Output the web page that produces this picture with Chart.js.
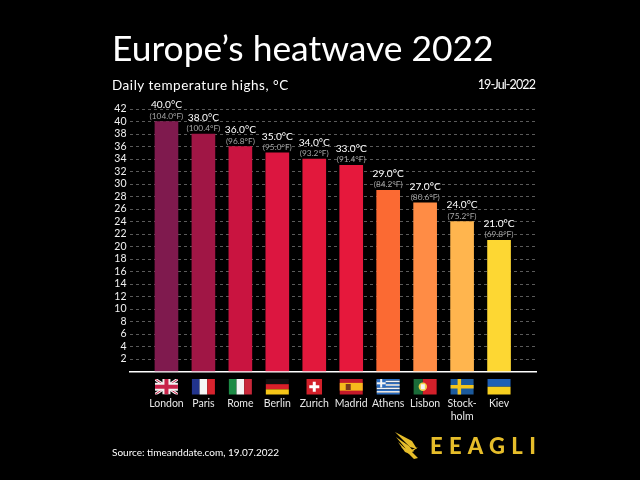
<!DOCTYPE html>
<html>
<head>
<meta charset="utf-8">
<title>Europe's heatwave 2022</title>
<script src="https://cdn.jsdelivr.net/npm/chart.js@4"></script>
<style>
  html, body { margin: 0; background: #000; }
  #wrap { position: relative; width: 640px; height: 480px; overflow: hidden; background: #000; }
  canvas { position: absolute; left: 0; top: 0; }
  .txt { position: absolute; color: #fff; font-family: Lato, sans-serif; white-space: nowrap; }
  #title { left: 112px; top: 26px; font-size: 35.4px; line-height: 44px; }
  #sub { left: 112px; top: 77px; font-size: 13.5px; line-height: 16px; letter-spacing: 0.53px; }
  #date { right: 105px; top: 77px; font-size: 12.5px; line-height: 16px; letter-spacing: -0.9px; }
  #source { left: 112px; top: 445px; font-size: 10px; line-height: 14px; }
  #brand { left: 430px; top: 432px; font-size: 22px; line-height: 28px; font-weight: 900; letter-spacing: 6.3px; color: #e6bd2a; }
</style>
</head>
<body>
<div id="wrap">
  <canvas id="heatChart" width="640" height="480"></canvas>
  <div class="txt" id="title">Europe’s heatwave 2022</div>
  <div class="txt" id="sub">Daily temperature highs, °C</div>
  <div class="txt" id="date">19-Jul-2022</div>
  <div class="txt" id="source">Source: timeanddate.com, 19.07.2022</div>
  <div class="txt" id="brand">EEAGLI</div>
</div>
<script>
const categories = ['London', 'Paris', 'Rome', 'Berlin', 'Zurich', 'Madrid', 'Athens', 'Lisbon', ['Stock-', 'holm'], 'Kiev'];
const highsC = [40, 38, 36, 35, 34, 33, 29, 27, 24, 21];
const highsF = ['104.0', '100.4', '96.8', '95.0', '93.2', '91.4', '84.2', '80.6', '75.2', '69.8'];
const barColors = ['#7f1a4e', '#a01645', '#c91440', '#dc1640', '#e2183c', '#e6183c', '#fb6a33', '#ff8c45', '#ffb54e', '#fdd733'];
const flags = ['uk', 'fr', 'it', 'de', 'ch', 'es', 'gr', 'pt', 'se', 'ua'];

const stripesV = (ctx, x, y, w, h, cols) => {
    cols.forEach((c, i) => {
        ctx.fillStyle = c;
        ctx.fillRect(x + w * i / cols.length, y, w / cols.length, h);
    });
};
const stripesH = (ctx, x, y, w, h, cols) => {
    cols.forEach((c, i) => {
        ctx.fillStyle = c;
        ctx.fillRect(x, y + h * i / cols.length, w, h / cols.length);
    });
};

const flagDraw = {
    uk(ctx, x, y, w, h) {
        ctx.save();
        ctx.beginPath(); ctx.rect(x, y, w, h); ctx.clip();
        ctx.fillStyle = '#000';
        ctx.fillRect(x, y, w, h);
        ctx.strokeStyle = '#f2f2f2'; ctx.lineWidth = 3;
        ctx.beginPath();
        ctx.moveTo(x, y); ctx.lineTo(x + w, y + h);
        ctx.moveTo(x + w, y); ctx.lineTo(x, y + h);
        ctx.stroke();
        ctx.strokeStyle = '#c8234a'; ctx.lineWidth = 1;
        ctx.stroke();
        ctx.fillStyle = '#f2f2f2';
        ctx.fillRect(x + w / 2 - 4, y, 8, h);
        ctx.fillRect(x, y + h / 2 - 4, w, 8);
        ctx.fillStyle = '#c8234a';
        ctx.fillRect(x + w / 2 - 2, y, 4, h);
        ctx.fillRect(x, y + h / 2 - 2, w, 4);
        ctx.restore();
    },
    fr(ctx, x, y, w, h) { stripesV(ctx, x, y, w, h, ['#22348c', '#f4f4f4', '#d8232e']); },
    it(ctx, x, y, w, h) { stripesV(ctx, x, y, w, h, ['#1c8a45', '#f4f4f4', '#c9283a']); },
    de(ctx, x, y, w, h) { stripesH(ctx, x, y, w, h, ['#111', '#d9202a', '#f5c518']); },
    ch(ctx, x, y, w, h) {
        const cx = x + w / 2, cy = y + h / 2;
        ctx.fillStyle = '#d3202a';
        ctx.fillRect(cx - h / 2, y, h, h);
        ctx.fillStyle = '#fff';
        ctx.fillRect(cx - 5, cy - 1.5, 10, 3);
        ctx.fillRect(cx - 1.5, cy - 5, 3, 10);
    },
    es(ctx, x, y, w, h) {
        ctx.fillStyle = '#c4192a';
        ctx.fillRect(x, y, w, h);
        ctx.fillStyle = '#f6b81c';
        ctx.fillRect(x, y + h / 4, w, h / 2);
        ctx.fillStyle = '#7a3a1c';
        ctx.fillRect(x + 6, y + 5, 5, 6);
    },
    gr(ctx, x, y, w, h) {
        stripesH(ctx, x, y, w, h, ['#2a6cc0', '#f4f4f4', '#2a6cc0', '#f4f4f4', '#2a6cc0', '#f4f4f4', '#2a6cc0', '#f4f4f4', '#2a6cc0']);
        ctx.fillStyle = '#2a6cc0';
        ctx.fillRect(x, y, 9, 8.5);
        ctx.fillStyle = '#f4f4f4';
        ctx.fillRect(x + 3.5, y, 2, 8.5);
        ctx.fillRect(x, y + 3.3, 9, 2);
    },
    pt(ctx, x, y, w, h) {
        ctx.fillStyle = '#1a6b38';
        ctx.fillRect(x, y, w * 0.4, h);
        ctx.fillStyle = '#d3202a';
        ctx.fillRect(x + w * 0.4, y, w * 0.6, h);
        ctx.fillStyle = '#f2d24a';
        ctx.beginPath(); ctx.arc(x + w * 0.4, y + h / 2, 4.2, 0, Math.PI * 2); ctx.fill();
        ctx.fillStyle = '#f4f4f4';
        ctx.fillRect(x + w * 0.4 - 2, y + h / 2 - 2.5, 4, 5);
    },
    se(ctx, x, y, w, h) {
        ctx.fillStyle = '#1c5a9c';
        ctx.fillRect(x, y, w, h);
        ctx.fillStyle = '#f5c518';
        ctx.fillRect(x + 7, y, 3.5, h);
        ctx.fillRect(x, y + h / 2 - 1.75, w, 3.5);
    },
    ua(ctx, x, y, w, h) { stripesH(ctx, x, y, w, h, ['#1f5fb4', '#f7cf1f']); }
};

// flags under the x axis and the eagle next to the brand name
const decorPlugin = {
    id: 'decor',
    afterDraw(chart) {
        const { ctx, scales } = chart;
        ctx.save();
        flags.forEach((f, i) => {
            const cx = scales.x.getPixelForValue(i);
            flagDraw[f](ctx, cx - 11.5, 379, 23, 15.5);
        });
        ctx.fillStyle = '#e6bd2a';
        [
            [[395, 432], [412, 441], [417, 449], [410, 447]],
            [[396, 437], [409, 446], [414, 452], [406, 449]],
            [[398, 442], [407, 450], [412, 455], [405, 452]],
            [[401, 447], [407, 452], [414, 459], [418, 458], [412, 452], [418, 447], [411, 450]]
        ].forEach(poly => {
            ctx.beginPath();
            poly.forEach((p, j) => j ? ctx.lineTo(p[0], p[1]) : ctx.moveTo(p[0], p[1]));
            ctx.closePath();
            ctx.fill();
        });
        ctx.restore();
    }
};

// two line value label above each bar
const valueLabelPlugin = {
    id: 'valueLabels',
    afterDatasetsDraw(chart) {
        const { ctx } = chart;
        const bars = chart.getDatasetMeta(0).data;
        ctx.save();
        ctx.textAlign = 'center';
        ctx.textBaseline = 'middle';
        bars.forEach((bar, i) => {
            ctx.fillStyle = '#fff';
            ctx.font = '10.2px Lato, sans-serif';
            ctx.fillText(highsC[i].toFixed(1) + '°C', bar.x, bar.y - 16.5);
            ctx.fillStyle = '#a5a5a5';
            ctx.font = '8.3px Lato, sans-serif';
            ctx.fillText('(' + highsF[i] + '°F)', bar.x, bar.y - 5.5);
        });
        ctx.restore();
    }
};

new Chart(document.getElementById('heatChart'), {
    type: 'bar',
    data: {
        datasets: [{
            data: highsC.map((v, i) => ({ x: i, y: v })),
            backgroundColor: barColors,
            barThickness: 23
        }]
    },
    plugins: [decorPlugin, valueLabelPlugin],
    options: {
        responsive: false,
        animation: false,
        layout: { padding: { left: 99.5, right: 104, top: 109, bottom: 28.4 } },
        plugins: {
            legend: { display: false },
            tooltip: { enabled: false }
        },
        scales: {
            x: {
                type: 'linear',
                offset: false,
                min: -1,
                max: 10,
                afterFit: s => { s.height = 80; },
                grid: { display: false },
                border: { color: '#fff', width: 1.5 },
                ticks: {
                    stepSize: 1,
                    autoSkip: false,
                    maxRotation: 0,
                    padding: 17,
                    color: '#e8e8e8',
                    font: { family: 'Lato, sans-serif', size: 10.5, lineHeight: 1.3 },
                    callback: v => categories[v] || ''
                }
            },
            y: {
                min: 0,
                max: 42,
                afterFit: s => { s.width = 30; },
                grid: {
                    color: ctx => ctx.tick.value === 0 ? 'transparent' : '#5a5a5a',
                    lineWidth: 1,
                    drawTicks: false
                },
                border: { display: false, dash: [3, 3] },
                ticks: {
                    stepSize: 2,
                    autoSkip: false,
                    padding: 3,
                    color: '#f0f0f0',
                    font: { family: 'Lato, sans-serif', size: 10.5 },
                    callback: v => v === 0 ? '' : v
                }
            }
        }
    }
});
</script>
</body>
</html>
